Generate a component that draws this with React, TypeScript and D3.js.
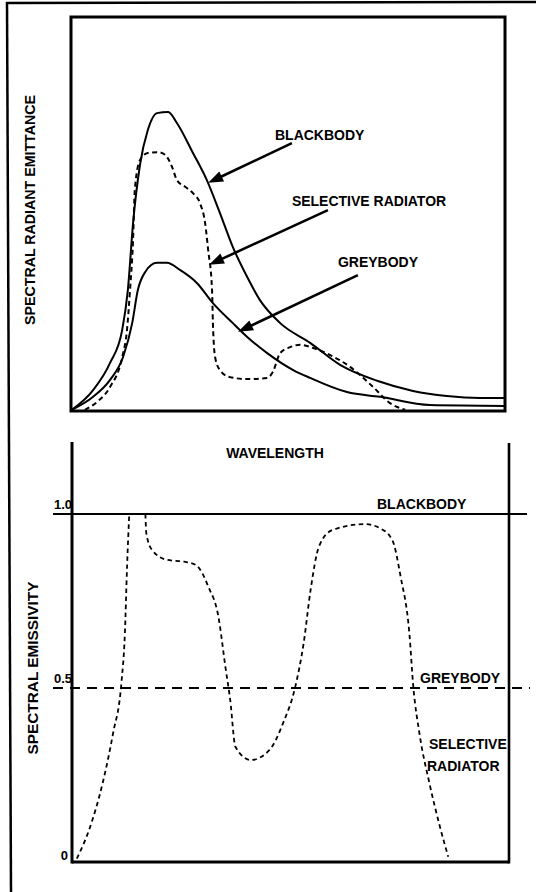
import React from "react";
import * as d3 from "d3";

const W = 536;
const H = 892;

// ---------- Top panel: spectral radiant emittance (relative 0-100) vs wavelength (relative 0-100)
const wlBlack = [0.2, 5.1, 9.0, 11.8, 13.1, 14.3, 15.9, 17.7, 19.8, 22.4, 24.4, 28.1, 31.3, 34.3, 37.3, 40.6, 43.5, 48.2, 55.1, 62.0, 70.7, 78.8, 86.6, 94.2, 100];
const emBlack = [0.3, 5.3, 12.2, 20.6, 30.7, 47.7, 62.5, 71.3, 75.6, 75.9, 73.1, 65.5, 58.6, 50.3, 41.6, 34.0, 28.2, 22.3, 17.3, 11.7, 7.6, 5.1, 3.8, 3.3, 3.3];

const wlGrey = [0.2, 5.1, 9.0, 12.0, 14.1, 15.4, 17.1, 19.8, 22.1, 25.1, 29.0, 32.7, 37.3, 40.6, 45.2, 51.2, 55.1, 63.6, 71.2, 82.7, 100];
const emGrey = [0.3, 3.6, 7.9, 13.7, 22.3, 30.7, 35.3, 37.6, 37.6, 35.8, 32.5, 27.4, 22.3, 18.8, 14.7, 10.4, 8.4, 4.8, 3.6, 1.5, 1.3];

const wlSel = [3.2, 6.0, 9.0, 11.8, 12.9, 13.6, 14.3, 14.7, 15.9, 17.7, 20.0, 21.7, 23.3, 24.4, 26.3, 28.1, 29.7, 30.9, 31.6, 32.5, 32.7, 33.2, 34.3, 36.6, 40.6, 45.2, 46.5, 48.2, 50.5, 52.8, 55.8, 59.7, 64.3, 69.6, 73.5, 77.0];
const emSel = [0.3, 2.3, 6.1, 13.7, 20.6, 30.7, 43.4, 56.1, 63.7, 65.5, 65.7, 65.0, 61.9, 58.6, 56.9, 55.3, 52.8, 47.7, 40.9, 30.7, 22.3, 13.7, 10.4, 8.6, 8.1, 8.4, 9.9, 14.7, 16.2, 16.8, 16.0, 14.2, 11.2, 6.1, 2.0, 0.3];

// annotation arrows (tail -> tip) in data units of the top panel
const arrowLabels = ["BLACKBODY", "SELECTIVE RADIATOR", "GREYBODY"];
const arrowTailWl = [50.9, 59.2, 66.1];
const arrowTailEm = [68.0, 51.0, 34.5];
const arrowTipWl = [31.6, 31.8, 38.5];
const arrowTipEm = [57.9, 37.1, 20.1];
const labelWl = [47.0, 50.9, 61.5];
const labelEm = [68.8, 52.0, 36.5];

// ---------- Bottom panel: spectral emissivity vs wavelength
const wlEmis = [1.1, 3.9, 7.0, 9.4, 11.3, 12.1, 12.6, 13.1, NaN, 16.8, 17.0, 18.3, 21.8, 25.7, 28.4, 31.2, 33.5, 35.1, 36.2, 37.4, 40.9, 45.2, 48.3, 51.1, 53.0, 54.6, 56.5, 59.6, 67.0, 70.5, 73.3, 75.2, 77.2, 78.1, 79.5, 81.8, 84.2, 86.1];
const eSel = [0.01, 0.092, 0.226, 0.37, 0.514, 0.657, 0.849, 1.0, NaN, 1.0, 0.945, 0.897, 0.868, 0.863, 0.853, 0.791, 0.705, 0.561, 0.466, 0.331, 0.293, 0.322, 0.399, 0.504, 0.628, 0.782, 0.906, 0.954, 0.971, 0.959, 0.925, 0.82, 0.657, 0.504, 0.37, 0.226, 0.101, 0.015];
const eBlackbody = 1.0;
const eGreybody = 0.5;
const emisTicks = [0, 0.5, 1.0];
const emisTickLabels = ["0", "0.5", "1.0"];

const FONT = "'Liberation Sans', Arial, Helvetica, sans-serif";

function Arrow({ x1, y1, x2, y2 }: { x1: number; y1: number; x2: number; y2: number }) {
  const dx = x2 - x1;
  const dy = y2 - y1;
  const len = Math.hypot(dx, dy);
  const ux = dx / len;
  const uy = dy / len;
  const hl = 15;
  const hw = 5.5;
  const bx = x2 - ux * hl;
  const by = y2 - uy * hl;
  const pts = [
    [x2, y2],
    [bx - uy * hw, by + ux * hw],
    [bx + uy * hw, by - ux * hw],
  ];
  return (
    <g>
      <line x1={x1} y1={y1} x2={bx + ux * 2} y2={by + uy * 2} stroke="#000" strokeWidth={2.6} />
      <polygon points={pts.map((p) => p.join(",")).join(" ")} fill="#000" />
    </g>
  );
}

export default function App() {
  // top scales
  const xT = d3.scaleLinear().domain([0, 100]).range([71, 505]);
  const yT = d3.scaleLinear().domain([0, 100]).range([411, 17]);
  // bottom scales
  const xB = d3.scaleLinear().domain([0, 100]).range([72, 509]);
  const yB = d3.scaleLinear().domain([0, 1]).range([862, 514]);

  const lineT = d3
    .line<[number, number]>()
    .x((d) => xT(d[0]))
    .y((d) => yT(d[1]))
    .curve(d3.curveMonotoneX);

  const lineB = d3
    .line<[number, number]>()
    .defined((d) => !isNaN(d[0]) && !isNaN(d[1]))
    .x((d) => xB(d[0]))
    .y((d) => yB(d[1]))
    .curve(d3.curveMonotoneX);

  const zip = (a: number[], b: number[]) => a.map((v, i) => [v, b[i]] as [number, number]);

  const dBlack = lineT(zip(wlBlack, emBlack)) || "";
  const dGrey = lineT(zip(wlGrey, emGrey)) || "";
  const dSel = lineT(zip(wlSel, emSel)) || "";
  const dEmis = lineB(zip(wlEmis, eSel)) || "";

  const [x0T, x1T] = xT.range();
  const [y0T, y1T] = yT.range();
  const [x0B, x1B] = xB.range();

  return (
    <svg
      width={W}
      height={H}
      viewBox={`0 0 ${W} ${H}`}
      style={{ position: "absolute", left: 0, top: 0, background: "#fff" }}
      fontFamily={FONT}
    >
      <rect x={0} y={0} width={W} height={H} fill="#fff" />
      {/* outer frame (left & top) */}
      <line x1={7} y1={2} x2={11} y2={H} stroke="#000" strokeWidth={2.5} />
      <line x1={6} y1={3} x2={W} y2={2} stroke="#000" strokeWidth={2.5} />

      {/* ---------- Top panel ---------- */}
      <rect x={x0T} y={y1T} width={x1T - x0T} height={y0T - y1T} fill="none" stroke="#000" strokeWidth={3} />
      <path d={dBlack} fill="none" stroke="#000" strokeWidth={2} />
      <path d={dGrey} fill="none" stroke="#000" strokeWidth={2} />
      <path d={dSel} fill="none" stroke="#000" strokeWidth={2} strokeDasharray="5 3.5" />

      {arrowLabels.map((lab, i) => (
        <g key={lab}>
          <Arrow x1={xT(arrowTailWl[i])} y1={yT(arrowTailEm[i])} x2={xT(arrowTipWl[i])} y2={yT(arrowTipEm[i])} />
          <text x={xT(labelWl[i])} y={yT(labelEm[i])} fontSize={14} fontWeight="bold">
            {lab}
          </text>
        </g>
      ))}

      <text
        transform={`translate(35, ${(yT(0) + yT(100)) / 2 - 4}) rotate(-90)`}
        textAnchor="middle"
        fontSize={14}
        fontWeight="bold"
        textLength={230}
        lengthAdjust="spacingAndGlyphs"
      >
        SPECTRAL RADIANT EMITTANCE
      </text>

      {/* ---------- Bottom panel ---------- */}
      <text x={275} y={458} textAnchor="middle" fontSize={14} fontWeight="bold">
        WAVELENGTH
      </text>
      {/* axes */}
      <line x1={x0B} y1={442} x2={x0B} y2={yB(0) + 1.5} stroke="#000" strokeWidth={3} />
      <line x1={x0B} y1={yB(0)} x2={x1B} y2={yB(0)} stroke="#000" strokeWidth={3} />
      <line x1={x1B} y1={443} x2={x1B} y2={yB(0) + 1.5} stroke="#000" strokeWidth={2.6} />

      {/* blackbody emissivity */}
      <line x1={53} y1={yB(eBlackbody)} x2={527} y2={yB(eBlackbody)} stroke="#000" strokeWidth={2} />
      {/* greybody emissivity */}
      <line x1={53} y1={yB(eGreybody)} x2={530} y2={yB(eGreybody)} stroke="#000" strokeWidth={2} strokeDasharray="10 7" />
      {/* selective radiator */}
      <path d={dEmis} fill="none" stroke="#000" strokeWidth={1.8} strokeDasharray="4.5 3.5" />

      {emisTicks.map((t, i) => (
        <text
          key={t}
          x={x0B + (i === 0 ? -4 : 0)}
          y={yB(t) - (i === 0 ? 2 : 5)}
          textAnchor="end"
          fontSize={13}
          fontWeight="bold"
        >
          {emisTickLabels[i]}
        </text>
      ))}

      <text x={377} y={509} fontSize={14} fontWeight="bold">BLACKBODY</text>
      <text x={420} y={683} fontSize={14} fontWeight="bold">GREYBODY</text>
      <text x={429} y={749} fontSize={14} fontWeight="bold">SELECTIVE</text>
      <text x={427} y={771} fontSize={14} fontWeight="bold">RADIATOR</text>

      <text
        transform={`translate(38, 668) rotate(-90)`}
        textAnchor="middle"
        fontSize={14}
        fontWeight="bold"
        textLength={173}
        lengthAdjust="spacingAndGlyphs"
      >
        SPECTRAL EMISSIVITY
      </text>
    </svg>
  );
}
